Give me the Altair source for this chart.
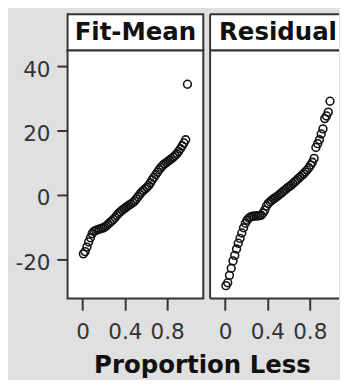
import altair as alt
import pandas as pd

panels = ["Fit-Mean", "Residual"]

fit_mean = [-18.3, -17.6, -16.2, -14.6, -13.3, -12.0, -11.3, -11.0, -10.8, -10.6,
            -10.4, -10.3, -10.0, -9.6, -9.1, -8.6, -8.1, -7.6, -7.0, -6.3,
            -5.7, -5.2, -4.7, -4.3, -3.9, -3.5, -3.1, -2.8, -2.4, -1.9,
            -1.2, -0.5, 0.2, 0.9, 1.4, 1.9, 2.4, 3.0, 3.8, 4.7,
            5.5, 6.3, 7.1, 7.9, 8.6, 9.2, 9.7, 10.1, 10.5, 10.9,
            11.3, 11.8, 12.3, 12.9, 13.6, 14.4, 15.3, 16.2, 17.2, 34.5]

residual = [-28.2, -27.3, -25.0, -22.8, -20.5, -18.8, -16.8, -15.0, -13.5, -11.8,
            -10.2, -8.8, -7.8, -7.2, -6.8, -6.5, -6.4, -6.5, -6.6, -6.6,
            -6.3, -5.6, -4.7, -3.4, -2.6, -2.1, -1.6, -1.2, -0.8, -0.4,
            0.0, 0.4, 0.9, 1.4, 1.8, 2.3, 2.7, 3.1, 3.6, 4.1,
            4.6, 5.1, 5.6, 6.1, 6.6, 7.2, 7.8, 8.5, 9.3, 10.2,
            11.4, 14.8, 16.0, 17.2, 19.0, 20.6, 23.8, 24.6, 25.8, 29.2]

y_ticks = [-20, 0, 20, 40]
x_ticks = [0, 0.4, 0.8]
x_title = "Proportion Less"

W = 139          # full panel width
W2 = 132         # visible part of the second (cut-off) panel
HH = 37
H = 254
FONT = "DejaVu Sans"
FRAME = "#333333"
PX_PER_UNIT = 108.4
X_MIN = -0.141


def frame_rules(w, h):
    """Left, top and bottom edges of a panel whose right side is cut off."""
    edge = alt.Chart(pd.DataFrame({"e": [0]})).mark_rule(color=FRAME, strokeWidth=2)
    left = edge.encode(x=alt.value(0), y=alt.value(0), y2=alt.value(h))
    top = edge.encode(x=alt.value(0), x2=alt.value(w), y=alt.value(0))
    bottom = edge.encode(x=alt.value(0), x2=alt.value(w), y=alt.value(h))
    return [left, top, bottom]


def make_panel(name, values, first):
    w = W if first else W2
    x_max = X_MIN + w / PX_PER_UNIT

    header_text = alt.Chart(pd.DataFrame({"t": [name]})).mark_text(
        font=FONT, fontWeight="bold", fontSize=25, color="#111111",
        baseline="alphabetic", align="center"
    ).encode(
        text="t:N", x=alt.value(W / 2), y=alt.value(26.5)
    )

    df = pd.DataFrame({"value": values})
    x_axis = alt.Axis(values=x_ticks, format="~g", grid=False, domain=False,
                      title=None,
                      tickSize=12, tickWidth=2, tickColor=FRAME,
                      labelPadding=12, labelFont=FONT, labelFontSize=22,
                      labelColor="#333333")
    xenc = alt.X("p:Q", scale=alt.Scale(domain=[X_MIN, x_max], nice=False, zero=False),
                 axis=x_axis)
    if first:
        y_axis = alt.Axis(values=y_ticks, grid=False, domain=False, title=None,
                          labelExpr="datum.value < 0 ? '-' + format(-datum.value, 'd') : format(datum.value, 'd')",
                          tickSize=11, tickWidth=2, tickColor=FRAME,
                          labelPadding=7, labelOffset=3, labelFont=FONT,
                          labelFontSize=22, labelColor="#333333")
    else:
        y_axis = None
    yenc = alt.Y("value:Q", scale=alt.Scale(domain=[-32.2, 45], nice=False, zero=False),
                 axis=y_axis)

    points = alt.Chart(df).transform_window(
        rank="row_number()", sort=[alt.SortField("value", order="ascending")]
    ).transform_joinaggregate(
        n="count()"
    ).transform_calculate(
        p="(datum.rank - 0.5) / datum.n"
    ).mark_point(
        shape="circle", filled=False, size=64, stroke="#111111",
        strokeWidth=1.6, opacity=1
    ).encode(x=xenc, y=yenc)

    if first:
        header = header_text.properties(
            width=w, height=HH,
            view=alt.ViewBackground(stroke=FRAME, strokeWidth=2, fill="white"))
        plot = points.properties(
            width=w, height=H,
            view=alt.ViewBackground(stroke=FRAME, strokeWidth=2, fill="white"))
    else:
        header = alt.layer(header_text, *frame_rules(w, HH)).properties(
            width=w, height=HH,
            view=alt.ViewBackground(stroke="transparent", strokeWidth=0, fill="white"))
        plot = alt.layer(points, *frame_rules(w, H)).properties(
            width=w, height=H,
            view=alt.ViewBackground(stroke="transparent", strokeWidth=0, fill="white"))

    return alt.vconcat(header, plot, spacing=0, bounds="flush")


chart = alt.hconcat(
    make_panel(panels[0], fit_mean, True),
    make_panel(panels[1], residual, False),
    spacing=5
).resolve_scale(x="independent", y="independent").properties(
    background="#e0e0e0",
    padding={"left": 6, "top": 1, "right": 0, "bottom": -2},
    title=alt.TitleParams(x_title, orient="bottom", anchor="start", dx=82,
                          font=FONT, fontSize=25, fontWeight="bold",
                          color="#111111", offset=10)
)

chart.save("out.html", embed_options={"renderer": "svg", "actions": False})
